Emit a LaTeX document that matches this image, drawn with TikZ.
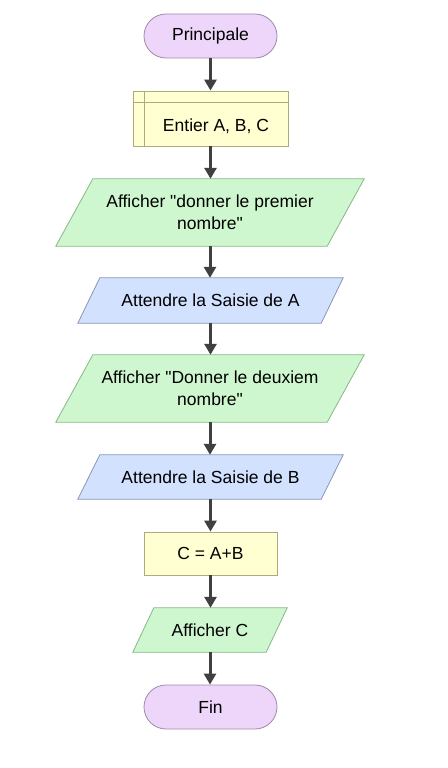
\documentclass[tikz,border=0pt]{standalone}
\usepackage{fontspec}
\setmainfont{Liberation Sans}[Ligatures=TeXOff]
\usetikzlibrary{arrows.meta,calc}
\pgfdeclarelayer{background}
\pgfsetlayers{background,main}
\definecolor{termfill}{HTML}{EDD6FA}
\definecolor{termdraw}{HTML}{A08AAA}
\definecolor{decfill}{HTML}{FFFFD2}
\definecolor{decdraw}{HTML}{ABAB7E}
\definecolor{outfill}{HTML}{CFF7CF}
\definecolor{outdraw}{HTML}{86B886}
\definecolor{infill}{HTML}{D2E1FE}
\definecolor{indraw}{HTML}{8797B5}
\definecolor{arrowc}{HTML}{404040}
\tikzset{
  every node/.style={font=\fontsize{17.5}{22}\selectfont, inner sep=0pt, align=center},
  term/.style={rounded corners=22pt, fill=termfill, draw=termdraw, line width=0.8pt, minimum width=133pt, minimum height=44pt},
  procbox/.style={fill=decfill, draw=decdraw, line width=0.8pt, minimum width=133pt, minimum height=43pt},
  flow/.style={draw=arrowc, line width=3pt, -{Triangle[width=12pt,length=11pt]}}
}
\newcommand{\paradraw}[4]{% name, slant half, fill, draw
  \begin{pgfonlayer}{background}
  \filldraw[fill=#3, draw=#4, line width=0.8pt]
    ($(#1.north west)+(#2,0)$) -- ($(#1.north east)+(#2,0)$) --
    ($(#1.south east)-(#2,0)$) -- ($(#1.south west)-(#2,0)$) -- cycle;
  \end{pgfonlayer}}
\begin{document}
\begin{tikzpicture}[x=1pt,y=-1pt]
\begin{pgfonlayer}{background}
\fill[white] (0,0) rectangle (447,768);
\end{pgfonlayer}
\useasboundingbox (0,0) rectangle (447,768);

\node[term] (start) at (210.5,36) {Principale};

\node[fill=decfill, draw=decdraw, line width=0.8pt, minimum width=155pt, minimum height=55pt] (decl) at (210.5,118.5) {};
\draw[decdraw, line width=0.8pt] (144,91) -- (144,146);
\draw[decdraw, line width=0.8pt] (133,102) -- (288,102);
\node (decltxt) at (216,126) {Entier A, B, C};

\node[minimum width=271pt, minimum height=67pt] (out1) at (210,212.5) {Afficher "donner le premier\\nombre"};
\paradraw{out1}{18.5}{outfill}{outdraw}

\node[minimum width=243pt, minimum height=45pt] (in1) at (210.5,300.5) {Attendre la Saisie de A};
\paradraw{in1}{11}{infill}{indraw}

\node[minimum width=271pt, minimum height=67pt] (out2) at (210,388.5) {Afficher "Donner le deuxiem\\nombre"};
\paradraw{out2}{18.5}{outfill}{outdraw}

\node[minimum width=243pt, minimum height=44pt] (in2) at (210.5,477) {Attendre la Saisie de B};
\paradraw{in2}{11}{infill}{indraw}

\node[procbox] (calc) at (210.5,553.5) {C = A+B};

\node[minimum width=133pt, minimum height=44pt] (out3) at (210,630) {Afficher C};
\paradraw{out3}{10.5}{outfill}{outdraw}

\node[term] (fin) at (210.5,707) {Fin};

\draw[flow] (start.south) -- (decl.north);
\draw[flow] (decl.south) -- (decl.south |- out1.north);
\draw[flow] (out1.south) -- (out1.south |- in1.north);
\draw[flow] (in1.south) -- (in1.south |- out2.north);
\draw[flow] (out2.south) -- (out2.south |- in2.north);
\draw[flow] (in2.south) -- (in2.south |- calc.north);
\draw[flow] (calc.south) -- (calc.south |- out3.north);
\draw[flow] (out3.south) -- (out3.south |- fin.north);
\end{tikzpicture}
\end{document}
